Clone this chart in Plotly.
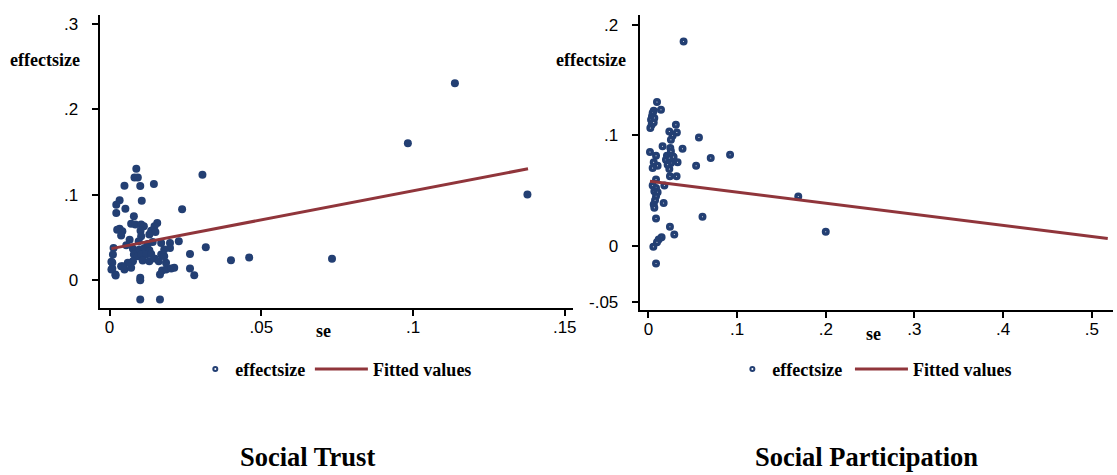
import plotly.graph_objects as go

# ---------------- data ----------------
trust_se = [0.0088, 0.0082, 0.0093, 0.0049, 0.0101, 0.0146, 0.0306, 0.0033, 0.0022, 0.0052,
            0.0106, 0.0022, 0.0080, 0.0239, 0.0033, 0.0042, 0.0038, 0.0071, 0.0085, 0.0104,
            0.0113, 0.0157, 0.0148, 0.0137, 0.0151, 0.0131, 0.0102, 0.0104, 0.0096, 0.0066,
            0.0170, 0.0199, 0.0228, 0.0199, 0.0077, 0.0088, 0.0099, 0.0115, 0.0131, 0.0080,
            0.0093, 0.0104, 0.0120, 0.0137, 0.0077, 0.0109, 0.0131, 0.0148, 0.0170, 0.0162,
            0.0013, 0.0011, 0.0006, 0.0009, 0.0019, 0.0038, 0.0049, 0.0071, 0.0060, 0.0101,
            0.0101, 0.0166, 0.0173, 0.0186, 0.0203, 0.0213, 0.0186, 0.0180, 0.0101, 0.0166,
            0.0265, 0.0265, 0.0279, 0.0317, 0.0142, 0.0126, 0.0055, 0.0180, 0.0025, 0.0400,
            0.0460, 0.0733, 0.0983, 0.1138, 0.1377, 0.0009, 0.0006, 0.0020, 0.0044]
trust_es = [0.1305, 0.1204, 0.1204, 0.1106, 0.1103, 0.1126, 0.1235, 0.0935, 0.0884, 0.0838,
            0.0931, 0.0787, 0.0748, 0.0830, 0.0604, 0.0572, 0.0522, 0.0662, 0.0651, 0.0651,
            0.0631, 0.0670, 0.0631, 0.0580, 0.0565, 0.0534, 0.0580, 0.0514, 0.0456, 0.0475,
            0.0437, 0.0437, 0.0456, 0.0378, 0.0367, 0.0339, 0.0359, 0.0378, 0.0350, 0.0300,
            0.0280, 0.0300, 0.0300, 0.0308, 0.0222, 0.0230, 0.0222, 0.0254, 0.0300, 0.0222,
            0.0378, 0.0300, 0.0215, 0.0137, 0.0067, 0.0164, 0.0125, 0.0145, 0.0203, 0.0028,
            0.0000, 0.0067, 0.0113, 0.0125, 0.0137, 0.0145, 0.0203, 0.0280, -0.0225, -0.0225,
            0.0308, 0.0137, 0.0058, 0.0386, 0.0448, 0.0425, 0.0409, 0.0359, 0.0592, 0.0234,
            0.0265, 0.0250, 0.1605, 0.2306, 0.1005, 0.0203, 0.0125, 0.0055, 0.0164]
trust_fit_se = [0.0006, 0.1379]
trust_fit_es = [0.0370, 0.1305]

part_se = [0.0397, 0.0097, 0.0142, 0.0060, 0.0048, 0.0040, 0.0030, 0.0037, 0.0022, 0.0067,
           0.0060, 0.0310, 0.0236, 0.0321, 0.0273, 0.0254, 0.0570, 0.0018, 0.0086, 0.0160,
           0.0247, 0.0254, 0.0209, 0.0273, 0.0385, 0.0703, 0.0921, 0.0198, 0.0236, 0.0284,
           0.0254, 0.0329, 0.0217, 0.0060, 0.0104, 0.0048, 0.0538, 0.0236, 0.0243, 0.0318,
           0.0086, 0.0048, 0.0086, 0.0067, 0.0104, 0.0086, 0.0075, 0.0060, 0.0067, 0.0180,
           0.0172, 0.0086, 0.0610, 0.0243, 0.0292, 0.0149, 0.0116, 0.0097, 0.0056, 0.0086,
           0.1690, 0.2000]
part_es = [0.1847, 0.1301, 0.1232, 0.1222, 0.1202, 0.1171, 0.1141, 0.1096, 0.1066, 0.1157,
           0.1117, 0.1096, 0.1036, 0.1027, 0.0997, 0.0961, 0.0980, 0.0850, 0.0817, 0.0901,
           0.0886, 0.0856, 0.0817, 0.0811, 0.0880, 0.0796, 0.0826, 0.0781, 0.0796, 0.0805,
           0.0751, 0.0757, 0.0736, 0.0757, 0.0727, 0.0706, 0.0727, 0.0697, 0.0631, 0.0631,
           0.0601, 0.0547, 0.0526, 0.0495, 0.0486, 0.0450, 0.0414, 0.0376, 0.0346, 0.0547,
           0.0391, 0.0250, 0.0265, 0.0175, 0.0105, 0.0081, 0.0060, 0.0036, -0.0005, -0.0156,
           0.0448, 0.0130]
part_fit_se = [0.0018, 0.5180]
part_fit_es = [0.0586, 0.0069]

trust_xticks = [0, 0.05, 0.1, 0.15]
trust_xlabels = ["0", ".05", ".1", ".15"]
trust_yticks = [0, 0.1, 0.2, 0.3]
trust_ylabels = ["0", ".1", ".2", ".3"]
part_xticks = [0, 0.1, 0.2, 0.3, 0.4, 0.5]
part_xlabels = ["0", ".1", ".2", ".3", ".4", ".5"]
part_yticks = [-0.05, 0, 0.1, 0.2]
part_ylabels = ["-.05", "0", ".1", ".2"]

panel_titles = ["Social Trust", "Social Participation"]
y_title = "effectsize"
x_title = "se"
series_names = ["effectsize", "Fitted values"]

# ---------------- styling ----------------
W, H = 1117, 475
NAVY = "#233f73"
MAROON = "#90353b"
SANS = "Liberation Sans, Arial, sans-serif"
SERIF = "Liberation Serif, Times New Roman, serif"


def px(x):
    return x / W


def py(y):
    return 1 - y / H


fig = go.Figure()

# Left panel
fig.add_trace(go.Scatter(x=trust_se, y=trust_es, mode="markers", xaxis="x", yaxis="y",
                         marker=dict(color=NAVY, size=8), showlegend=False, name=series_names[0]))
fig.add_trace(go.Scatter(x=[None], y=[None], mode="markers", xaxis="x", yaxis="y",
                         marker=dict(color="white", size=4, line=dict(color=NAVY, width=2)),
                         name=series_names[0], legend="legend"))
fig.add_trace(go.Scatter(x=trust_fit_se, y=trust_fit_es, mode="lines", xaxis="x", yaxis="y",
                         line=dict(color=MAROON, width=3), name=series_names[1], legend="legend2"))

# Right panel
fig.add_trace(go.Scatter(x=part_se, y=part_es, mode="markers", xaxis="x2", yaxis="y2",
                         marker=dict(color="white", size=4.5, line=dict(color=NAVY, width=3.5)),
                         showlegend=False, name=series_names[0]))
fig.add_trace(go.Scatter(x=[None], y=[None], mode="markers", xaxis="x2", yaxis="y2",
                         marker=dict(color="white", size=4, line=dict(color=NAVY, width=2)),
                         name=series_names[0], legend="legend3"))
fig.add_trace(go.Scatter(x=part_fit_se, y=part_fit_es, mode="lines", xaxis="x2", yaxis="y2",
                         line=dict(color=MAROON, width=3), name=series_names[1], legend="legend4"))

axis_common = dict(showline=True, linecolor="black", linewidth=2, ticks="outside",
                   ticklen=6, tickwidth=1.5, tickcolor="black", showgrid=False,
                   zeroline=False, tickfont=dict(family=SANS, size=17, color="black"))

fig.update_layout(
    width=W, height=H,
    margin=dict(l=0, r=0, t=0, b=0),
    paper_bgcolor="white", plot_bgcolor="white",
    xaxis=dict(domain=[px(100), px(575)], range=[-0.00328, 0.1527], anchor="y",
               tickvals=trust_xticks, ticktext=trust_xlabels, ticklabelstandoff=-4, **axis_common),
    yaxis=dict(domain=[py(309), py(15)], range=[-0.033, 0.3107], anchor="x",
               tickvals=trust_yticks, ticktext=trust_ylabels, ticklabelstandoff=10, **axis_common),
    xaxis2=dict(domain=[px(642), px(1117)], range=[-0.0098, 0.5239], anchor="y2",
                tickvals=part_xticks, ticktext=part_xlabels, ticklabelstandoff=-4, **axis_common),
    yaxis2=dict(domain=[py(311), py(15)], range=[-0.0579, 0.2087], anchor="x2",
                tickvals=part_yticks, ticktext=part_ylabels, ticklabelstandoff=10, **axis_common),
)

legend_common = dict(orientation="h", yanchor="middle", xanchor="left", bgcolor="rgba(0,0,0,0)",
                     font=dict(family=SERIF, size=18, color="black", weight="bold"),
                     borderwidth=0)
fig.update_layout(
    legend=dict(x=px(196), y=py(370), itemwidth=30, **legend_common),
    legend2=dict(x=px(311), y=py(370), itemwidth=53, **legend_common),
    legend3=dict(x=px(735), y=py(370), itemwidth=30, **legend_common),
    legend4=dict(x=px(853), y=py(370), itemwidth=53, **legend_common),
)

ann_font = dict(family=SERIF, size=18, color="black", weight="bold")
title_font = dict(family=SERIF, size=26.5, color="black", weight="bold")
annotations = [
    dict(text=y_title, x=px(45), y=py(60), xref="paper", yref="paper", showarrow=False,
         font=ann_font, xanchor="center", yanchor="middle"),
    dict(text=y_title, x=px(593), y=py(60), xref="paper", yref="paper", showarrow=False,
         font=ann_font, xanchor="center", yanchor="middle"),
    dict(text=x_title, x=px(325), y=py(332), xref="paper", yref="paper", showarrow=False,
         font=ann_font, xanchor="center", yanchor="middle"),
    dict(text=x_title, x=px(877), y=py(335), xref="paper", yref="paper", showarrow=False,
         font=ann_font, xanchor="center", yanchor="middle"),
    dict(text=panel_titles[0], x=px(309), y=py(458), xref="paper", yref="paper", showarrow=False,
         font=title_font, xanchor="center", yanchor="middle"),
    dict(text=panel_titles[1], x=px(870), y=py(458), xref="paper", yref="paper", showarrow=False,
         font=title_font, xanchor="center", yanchor="middle"),
]
fig.update_layout(annotations=annotations)

fig.write_html("out.html", config={"displayModeBar": False},
               post_script="document.body.style.margin='0px';")
